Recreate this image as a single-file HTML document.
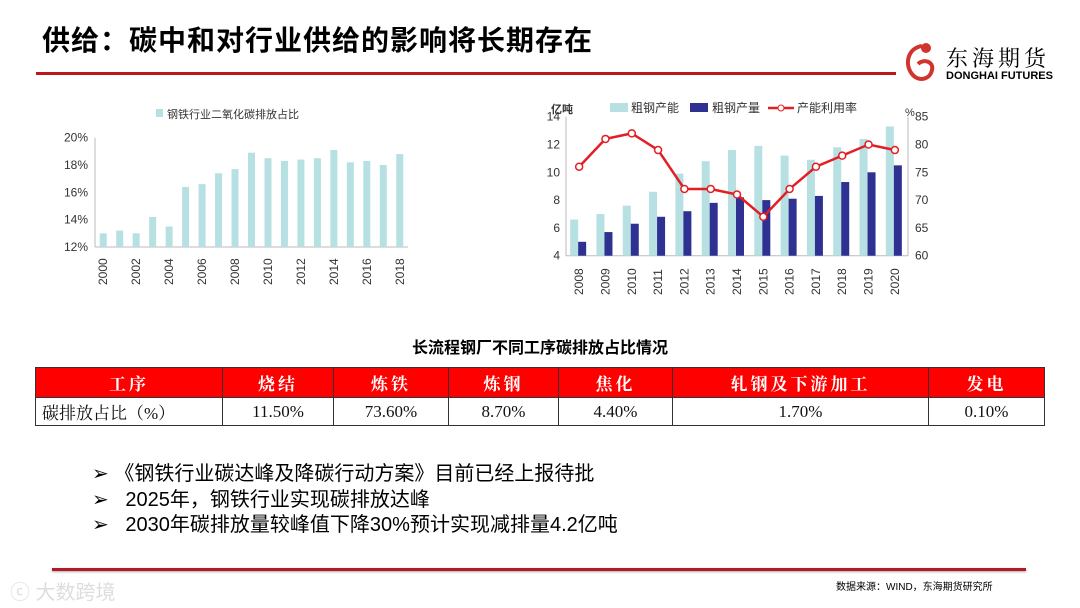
<!DOCTYPE html>
<html><head><meta charset="utf-8">
<style>
*{margin:0;padding:0;box-sizing:border-box}
body{width:1080px;height:608px;background:#fff;position:relative;overflow:hidden;font-family:"Liberation Sans","Noto Sans CJK SC",sans-serif;color:#000}
.abs{position:absolute}
table{border-collapse:collapse;position:absolute;left:35px;top:367px;width:1010px;font-family:"Liberation Serif","Noto Serif CJK SC",serif}
td{border:1.5px solid #333;text-align:center;font-size:17px}
tr.h td{background:#ff0000;color:#fff;height:30px;letter-spacing:3px;font-weight:bold}
tr.d td{height:28px;color:#111}
.bul{position:absolute;left:92px;font-size:20px;color:#000}
</style></head><body>
<div class="abs" style="left:42px;top:19px;font-size:28px;font-weight:bold;letter-spacing:1px">供给：碳中和对行业供给的影响将长期存在</div>
<div class="abs" style="left:36px;top:72px;width:860px;height:3px;background:#c0141c"></div>
<div class="abs" style="left:900px;top:38px;width:160px;height:50px">
<svg width="40" height="46" style="position:absolute;left:0;top:2px"><path d="M22 6 C8 8 4 24 12 34 C18 42 30 40 32 30 C34 22 24 18 18 24" stroke="#d0342c" stroke-width="4" fill="none"/><circle cx="26" cy="8" r="5" fill="#d0342c"/></svg>
<div style="position:absolute;left:46px;top:4px;font-size:22px;letter-spacing:4px;font-family:'Noto Serif CJK SC',serif">东海期货</div>
<div style="position:absolute;left:46px;top:32px;font-size:11px;font-weight:bold">DONGHAI FUTURES</div>
</div>

<svg class="abs" style="left:0;top:0" width="1080" height="330">
<g id="left"></g><g id="right"></g></svg>

<div class="abs" style="left:0;width:1080px;top:334px;text-align:center;font-size:16px;font-weight:bold">长流程钢厂不同工序碳排放占比情况</div>
<table>
<tr class="h"><td style="width:187px">工序</td><td style="width:111px">烧结</td><td style="width:115px">炼铁</td><td style="width:110px">炼钢</td><td style="width:114px">焦化</td><td style="width:256px">轧钢及下游加工</td><td>发电</td></tr>
<tr class="d"><td style="text-align:left;padding-left:6px">碳排放占比（%）</td><td>11.50%</td><td>73.60%</td><td>8.70%</td><td>4.40%</td><td>1.70%</td><td>0.10%</td></tr>
</table>

<div class="bul" style="top:457px">➢ 《钢铁行业碳达峰及降碳行动方案》目前已经上报待批</div>
<div class="bul" style="top:483px">➢ &nbsp;&nbsp;2025年，钢铁行业实现碳排放达峰</div>
<div class="bul" style="top:508px">➢ &nbsp;&nbsp;2030年碳排放量较峰值下降30%预计实现减排量4.2亿吨</div>
<div class="abs" style="left:52px;top:568px;width:974px;height:3px;background:#b01c22;box-shadow:0 1px 2px #aaa"></div>
<div class="abs" style="left:836px;top:578px;font-size:10px">数据来源：WIND，东海期货研究所</div>
<div class="abs" style="left:10px;top:576px;font-size:20px;color:#ddd">ⓒ 大数跨境</div>

<script>
const leftYears=['2000','2001','2002','2003','2004','2005','2006','2007','2008','2009','2010','2011','2012','2013','2014','2015','2016','2017','2018'];
const leftShare=[13.0,13.2,13.0,14.2,13.5,16.4,16.6,17.4,17.7,18.9,18.5,18.3,18.4,18.5,19.1,18.2,18.3,18.0,18.8];
const leftTicks=[12,14,16,18,20];
const rYears=['2008','2009','2010','2011','2012','2013','2014','2015','2016','2017','2018','2019','2020'];
const capacity=[6.6,7.0,7.6,8.6,9.9,10.8,11.6,11.9,11.2,10.9,11.8,12.4,13.3];
const output=[5.0,5.7,6.3,6.8,7.2,7.8,8.2,8.0,8.1,8.3,9.3,10.0,10.5];
const util=[76,81,82,79,72,72,71,67,72,76,78,80,79];
const rTicksL=[4,6,8,10,12,14];
const rTicksR=[60,65,70,75,80,85];
const NS='http://www.w3.org/2000/svg';
function mk(p,t,a,txt){const e=document.createElementNS(NS,t);for(const k in a)e.setAttribute(k,a[k]);if(txt!==undefined)e.textContent=txt;p.appendChild(e);return e;}
const L=document.getElementById('left');
const lx0=95,lx1=408,ly=v=>247-(v-12)/8*109.3;const lw=(lx1-lx0)/leftYears.length;
leftTicks.forEach(t=>{const e=mk(L,'text',{x:88,y:ly(t)+4,'text-anchor':'end','font-size':12,fill:'#333'},t+'%');

});
mk(L,'line',{x1:lx0,x2:lx0,y1:ly(20),y2:247,stroke:'#bbb'});
mk(L,'line',{x1:lx0,x2:lx1,y1:247,y2:247,stroke:'#bbb'});
leftShare.forEach((v,i)=>{const cx=lx0+lw*(i+0.5);
const b=mk(L,'rect',{x:cx-3.5,y:ly(v),width:7,height:247-ly(v),fill:'#b7e0e3'});


if(i%2==0){const t=mk(L,'text',{transform:`translate(${cx+4},285) rotate(-90)`,'font-size':12,fill:'#333'},leftYears[i]);

}});
mk(L,'rect',{x:156,y:109,width:7,height:8,fill:'#b7e0e3'});
const lg=mk(L,'text',{x:167,y:118,'font-size':11,fill:'#333'},'钢铁行业二氧化碳排放占比');


const R=document.getElementById('right');
const rx0=566,rx1=908,y0=255.7,y1=116.7;
const ryL=v=>y0-(v-4)/10*(y0-y1), ryR=v=>y0-(v-60)/25*(y0-y1);const rw=(rx1-rx0)/rYears.length;
rTicksL.forEach(t=>{const e=mk(R,'text',{x:560,y:ryL(t)+4,'text-anchor':'end','font-size':12,fill:'#333'},t);

});
rTicksR.forEach(t=>{const e=mk(R,'text',{x:915,y:ryR(t)+4,'font-size':12,fill:'#333'},t);

});
mk(R,'line',{x1:rx0,x2:rx0,y1:y1,y2:y0,stroke:'#bbb'});
mk(R,'line',{x1:rx1,x2:rx1,y1:y1,y2:y0,stroke:'#bbb'});
mk(R,'line',{x1:rx0,x2:rx1,y1:y0,y2:y0,stroke:'#bbb'});
rYears.forEach((y,i)=>{const cx=rx0+rw*(i+0.5);
const a=mk(R,'rect',{x:cx-9,y:ryL(capacity[i]),width:8,height:y0-ryL(capacity[i]),fill:'#b7e0e3'});


const b=mk(R,'rect',{x:cx-1,y:ryL(output[i]),width:8,height:y0-ryL(output[i]),fill:'#2e3192'});


const t=mk(R,'text',{transform:`translate(${cx+4},295) rotate(-90)`,'font-size':12,fill:'#333'},y);

});
const pts=util.map((v,i)=>(rx0+rw*(i+0.5))+','+ryR(v)).join(' ');
const pl=mk(R,'polyline',{points:pts,fill:'none',stroke:'#e31e24','stroke-width':2.5});


util.forEach((v,i)=>{const c=mk(R,'circle',{cx:rx0+rw*(i+0.5),cy:ryR(v),r:3.5,fill:'#fff',stroke:'#e31e24','stroke-width':1.5});

});
mk(R,'text',{x:551,y:113,'font-size':11,'font-weight':'bold',fill:'#333'},'亿吨');
mk(R,'text',{x:905,y:116,'font-size':11,fill:'#333'},'%');
mk(R,'rect',{x:610,y:103,width:18,height:9,fill:'#b7e0e3'});
mk(R,'text',{x:631,y:112,'font-size':12,fill:'#333'},'粗钢产能');
mk(R,'rect',{x:690,y:103,width:18,height:9,fill:'#2e3192'});
mk(R,'text',{x:712,y:112,'font-size':12,fill:'#333'},'粗钢产量');
mk(R,'line',{x1:768,x2:794,y1:108,y2:108,stroke:'#e31e24','stroke-width':2.5});
mk(R,'circle',{cx:781,cy:108,r:3,fill:'#fff',stroke:'#e31e24'});
mk(R,'text',{x:797,y:112,'font-size':12,fill:'#333'},'产能利用率');
</script>
</body></html>
